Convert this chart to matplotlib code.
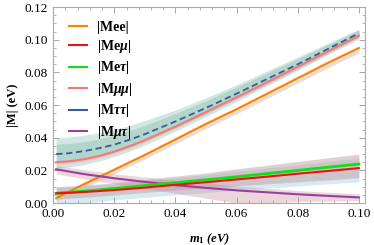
import numpy as np
import matplotlib
matplotlib.use('Agg')
import matplotlib.pyplot as plt
from matplotlib.ticker import MultipleLocator
from matplotlib.lines import Line2D

plt.rcParams['font.family'] = 'Liberation Serif'
plt.rcParams['mathtext.fontset'] = 'custom'
plt.rcParams['mathtext.rm'] = 'Liberation Serif:bold'
plt.rcParams['mathtext.it'] = 'Liberation Serif:italic:bold'

# lightest neutrino mass (eV)
m1 = [0.001, 0.005, 0.01, 0.015, 0.02, 0.025, 0.03, 0.04, 0.05, 0.06, 0.07, 0.08, 0.09, 0.10]

# central curves |M_ab| (eV)
mee = [0.0030, 0.0068, 0.0115, 0.0160, 0.0205, 0.0250, 0.0295, 0.0390, 0.0485, 0.0575, 0.0670, 0.0765, 0.0860, 0.0950]
meu = [0.0060, 0.0063, 0.0068, 0.0074, 0.0080, 0.0087, 0.0095, 0.0112, 0.0128, 0.0145, 0.0162, 0.0180, 0.0197, 0.0214]
met = [0.0060, 0.0066, 0.0073, 0.0081, 0.0090, 0.0098, 0.0107, 0.0125, 0.0143, 0.0161, 0.0181, 0.0200, 0.0220, 0.0239]
muu = [0.0250, 0.0255, 0.0268, 0.0288, 0.0315, 0.0348, 0.0385, 0.0468, 0.0558, 0.0648, 0.0740, 0.0835, 0.0930, 0.1025]
mtt = [0.0300, 0.0305, 0.0318, 0.0336, 0.0358, 0.0388, 0.0422, 0.0500, 0.0583, 0.0670, 0.0760, 0.0850, 0.0945, 0.1040]
mut = [0.0207, 0.0194, 0.0178, 0.0165, 0.0152, 0.0141, 0.0130, 0.0110, 0.0093, 0.0078, 0.0066, 0.0054, 0.0044, 0.0035]

# uncertainty bands (lower, upper)
mee_lo = [0.0010, 0.0045, 0.0090, 0.0135, 0.0180, 0.0225, 0.0270, 0.0363, 0.0457, 0.0547, 0.0641, 0.0735, 0.0830, 0.0920]
mee_hi = [0.0034, 0.0071, 0.0118, 0.0163, 0.0208, 0.0253, 0.0298, 0.0393, 0.0488, 0.0578, 0.0673, 0.0768, 0.0863, 0.0953]
meu_lo = [0.0025, 0.0030, 0.0035, 0.0042, 0.0050, 0.0057, 0.0065, 0.0080, 0.0093, 0.0105, 0.0118, 0.0130, 0.0142, 0.0155]
meu_hi = [0.0100, 0.0105, 0.0110, 0.0117, 0.0125, 0.0135, 0.0145, 0.0165, 0.0185, 0.0210, 0.0232, 0.0255, 0.0278, 0.0300]
met_lo = [0.0000, 0.0000, 0.0000, 0.0010, 0.0020, 0.0028, 0.0035, 0.0050, 0.0065, 0.0080, 0.0092, 0.0105, 0.0118, 0.0130]
met_hi = [0.0095, 0.0100, 0.0105, 0.0111, 0.0118, 0.0126, 0.0135, 0.0155, 0.0175, 0.0195, 0.0215, 0.0235, 0.0255, 0.0275]
muu_lo = [0.0237, 0.0242, 0.0255, 0.0275, 0.0302, 0.0335, 0.0372, 0.0455, 0.0545, 0.0636, 0.0728, 0.0823, 0.0918, 0.1013]
muu_hi = [0.0263, 0.0268, 0.0281, 0.0301, 0.0328, 0.0361, 0.0398, 0.0481, 0.0571, 0.0660, 0.0752, 0.0847, 0.0942, 0.1037]
mtt_lo = [0.0215, 0.0220, 0.0235, 0.0257, 0.0284, 0.0318, 0.0355, 0.0440, 0.0530, 0.0622, 0.0717, 0.0812, 0.0910, 0.1005]
mtt_hi = [0.0400, 0.0404, 0.0415, 0.0430, 0.0450, 0.0475, 0.0505, 0.0570, 0.0645, 0.0725, 0.0810, 0.0895, 0.0980, 0.1065]
mtt_lo2 = [0.0250, 0.0255, 0.0268, 0.0288, 0.0313, 0.0345, 0.0382, 0.0462, 0.0548, 0.0638, 0.0730, 0.0823, 0.0920, 0.1015]
mtt_hi2 = [0.0360, 0.0364, 0.0376, 0.0392, 0.0414, 0.0443, 0.0476, 0.0548, 0.0627, 0.0710, 0.0797, 0.0884, 0.0972, 0.1060]
mut_lo = [0.0180, 0.0165, 0.0150, 0.0135, 0.0120, 0.0105, 0.0090, 0.0060, 0.0030, 0.0000, 0.0000, 0.0010, 0.0012, 0.0015]
mut_hi = [0.0230, 0.0218, 0.0205, 0.0192, 0.0180, 0.0170, 0.0160, 0.0140, 0.0122, 0.0105, 0.0090, 0.0077, 0.0066, 0.0056]

labels = ['|Mee|', r'|Me$\mu$|', r'|Me$\tau$|', r'|M$\mu\mu$|', r'|M$\tau\tau$|', r'|M$\mu\tau$|']
colors = ['#ff8000', '#ee1111', '#10e010', '#f47a7a', '#3d5a98', '#9a3f9a']

fig = plt.figure(figsize=(3.74, 2.45), dpi=100)
ax = fig.add_axes([0.142, 0.171, 0.834, 0.80])

# bands
ax.fill_between(m1, met_lo, met_hi, color='#9ccbe0', alpha=0.40, lw=0)
ax.fill_between(m1, meu_lo, meu_hi, color='#b89a9a', alpha=0.45, lw=0)
ax.fill_between(m1, mut_lo, mut_hi, color='#c48a9a', alpha=0.35, lw=0)
ax.fill_between(m1, mtt_lo, mtt_hi, color='#8cc5b5', alpha=0.40, lw=0)
ax.fill_between(m1, mtt_lo2, mtt_hi2, color='#7ab8a5', alpha=0.35, lw=0)
ax.fill_between(m1, muu_lo, muu_hi, color='#f0a0a0', alpha=0.35, lw=0)
ax.fill_between(m1, mee_lo, mee_hi, color='#d8c8b8', alpha=0.6, lw=0)

# central curves
ax.plot(m1, mee, color=colors[0], lw=1.5)
ax.plot(m1, met, color=colors[2], lw=2.0, zorder=3)
ax.plot(m1, meu, color=colors[1], lw=1.5, zorder=4)
ax.plot(m1, muu, color=colors[3], lw=1.5)
ax.plot(m1, mtt, color=colors[4], lw=1.3, ls=(0, (3.5, 2)))
ax.plot(m1, mut, color=colors[5], lw=1.5)

hs = [Line2D([], [], color=c, lw=1.5) for c in colors]
ax.legend(hs, labels, loc='upper left', frameon=False,
          handlelength=1.3, handletextpad=0.7, labelspacing=0.32,
          bbox_to_anchor=(0.01, 0.995), prop={'weight': 'bold', 'size': 10})

ax.set_xlim(0, 0.102)
ax.set_ylim(0, 0.12)
ax.xaxis.set_major_locator(MultipleLocator(0.02))
ax.xaxis.set_minor_locator(MultipleLocator(0.004))
ax.yaxis.set_major_locator(MultipleLocator(0.02))
ax.yaxis.set_minor_locator(MultipleLocator(0.005))
ax.xaxis.set_major_formatter(plt.FuncFormatter(lambda v, p: f'{v:.2f}'))
ax.yaxis.set_major_formatter(plt.FuncFormatter(lambda v, p: f'{v:.2f}'))
ax.tick_params(which='both', direction='in', top=True, right=True, color='#999999', labelsize=9.5)
ax.tick_params(which='major', length=4, width=0.6)
ax.tick_params(which='minor', length=2, width=0.5)
for s in ax.spines.values():
    s.set_color('#aaaaaa')
    s.set_linewidth(0.8)

ax.set_xlabel(r'$m_1$ (eV)', fontsize=9, fontweight='bold', fontstyle='italic', labelpad=8)
ax.set_ylabel('|M| (eV)', fontsize=9, fontweight='bold', labelpad=4)

fig.savefig('out.png', dpi=100)
